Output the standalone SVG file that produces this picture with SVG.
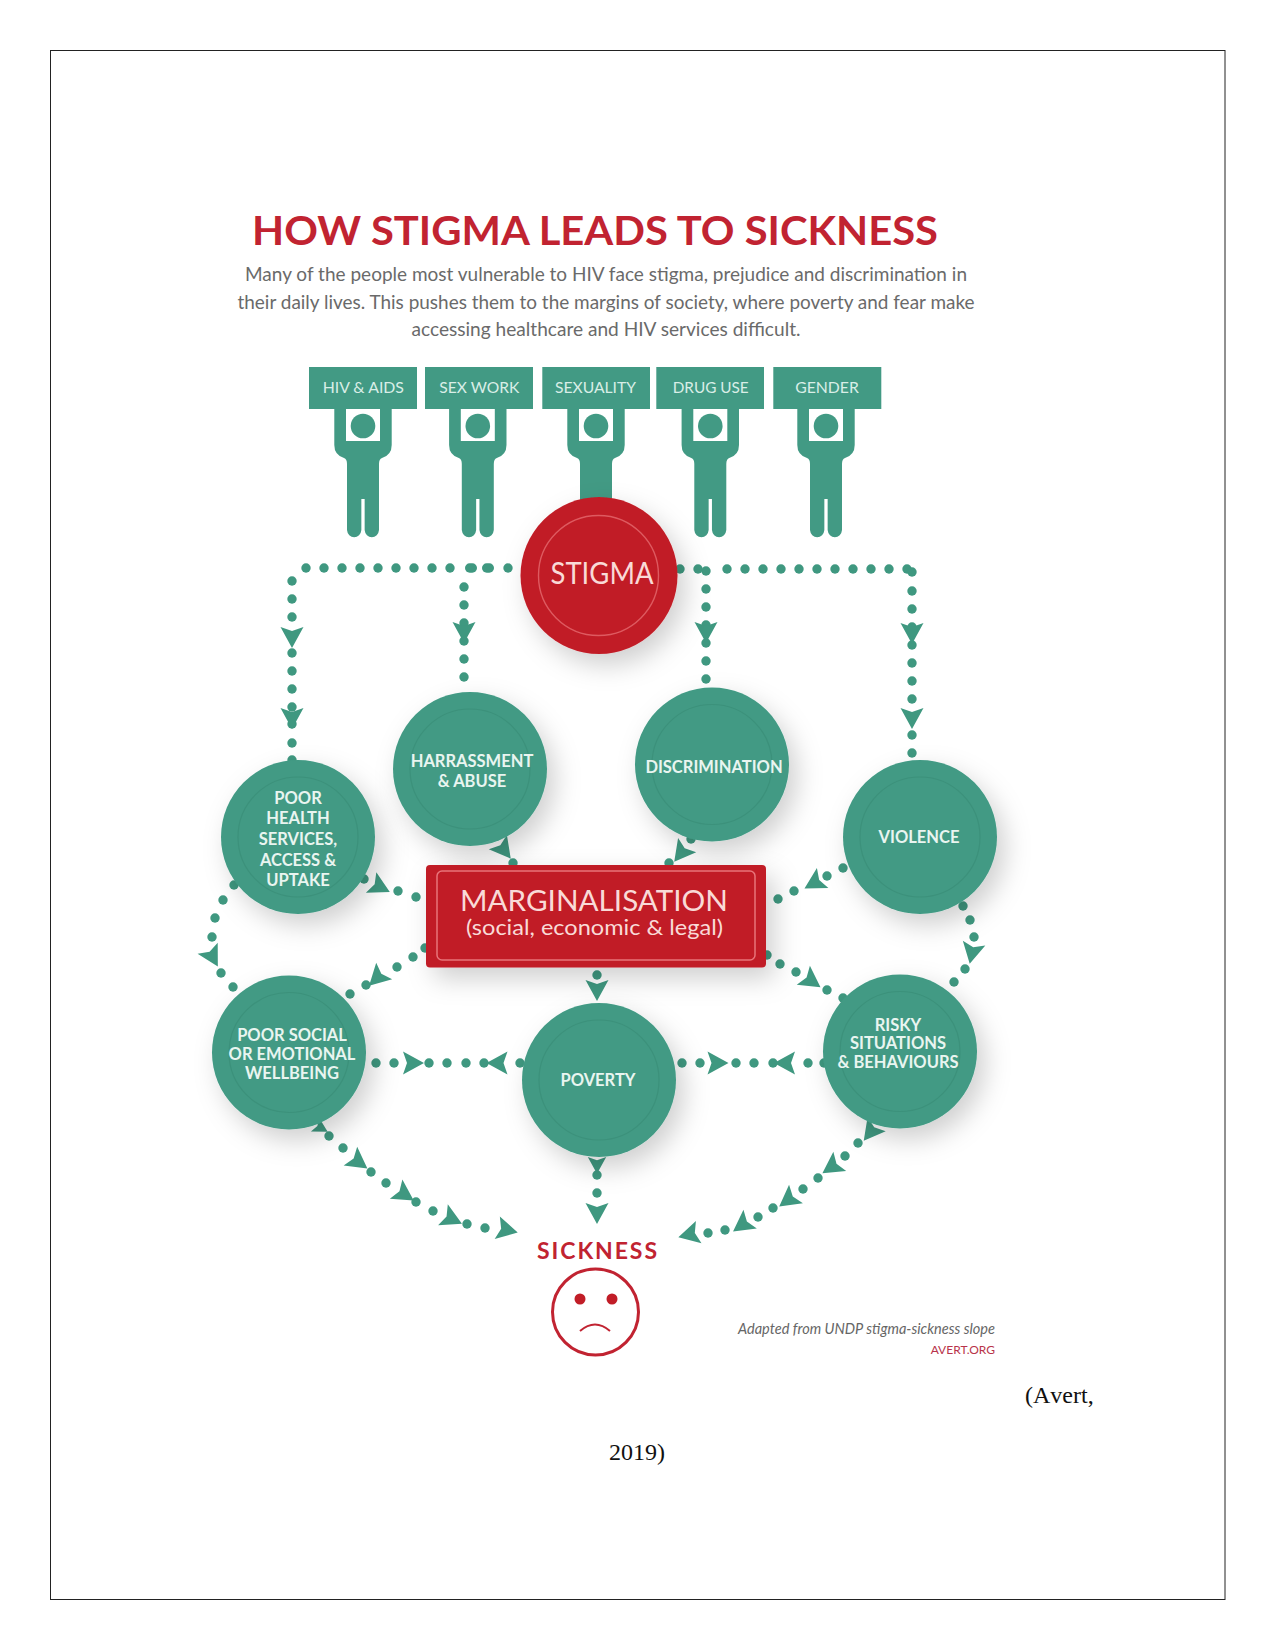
<svg xmlns="http://www.w3.org/2000/svg" width="1275" height="1651" viewBox="0 0 1275 1651">
<style>
text{font-family:"Lato","Liberation Sans",sans-serif}
.teal{fill:#429a84}
.d{fill:#3f9880}
.d circle{r:4.700px}
.d rect{rx:4.700px}
.a{fill:#3f9880}
.ring{fill:none;stroke:#3c917b;stroke-width:1.200}
.rring{fill:none;stroke:#de5a60;stroke-width:1.400}
.label{fill:#e9f5f0;font-weight:700;font-size:16.500px;text-anchor:middle}
.sign{fill:#d9eee7;font-size:15.500px;text-anchor:middle}
.body{fill:#6a6a6a;font-size:20px;text-anchor:middle}
.gothic{fill:#f9dad7;text-anchor:middle}
.times{font-family:"Liberation Serif","Times New Roman",serif;font-size:24px;fill:#111;font-kerning:none}
</style>
<defs>
<filter id="soft" x="-40%" y="-40%" width="190%" height="190%">
<feDropShadow dx="8" dy="11" stdDeviation="13" flood-color="#000" flood-opacity=".19"/>
</filter>
<path id="arrow" d="M11 0L-10-11.500L-6 0L-10 11.500Z"/>
<g id="figure">
<path class="teal" d="M-28.700 0H28.700V36Q28.700 46 19 49Q16 50 16 55V121A7.200 8 0 0 1 1.650 121V90H-1.650V121A7.200 8 0 0 1-16 121V55Q-16 50-19 49Q-28.700 46-28.700 36Z"/>
<rect x="-17" y="0" width="34" height="32" fill="#fff"/>
<circle cx="0" cy="17" r="12.300" class="teal"/>
</g>
</defs>
<rect width="1275" height="1651" fill="#fff"/>
<rect x="50.500" y="50.500" width="1174.500" height="1549" fill="none" stroke="#222" stroke-width="1"/>

<text x="595" y="245" text-anchor="middle" font-size="41" font-weight="700" fill="#c12331" textLength="686" lengthAdjust="spacingAndGlyphs">HOW STIGMA LEADS TO SICKNESS</text>
<text class="body" x="606" y="281" textLength="722" lengthAdjust="spacingAndGlyphs">Many of the people most vulnerable to HIV face stigma, prejudice and discrimination in</text>
<text class="body" x="606" y="309" textLength="737" lengthAdjust="spacingAndGlyphs">their daily lives. This pushes them to the margins of society, where poverty and fear make</text>
<text class="body" x="606" y="336" textLength="389" lengthAdjust="spacingAndGlyphs">accessing healthcare and HIV services difficult.</text>

<g id="connectors">
<g class="d">
<circle cx="306" cy="568"/><circle cx="324" cy="568"/><circle cx="342" cy="568"/><circle cx="360" cy="568"/><circle cx="378" cy="568"/><circle cx="396" cy="568"/><circle cx="414" cy="568"/><circle cx="432" cy="568"/><circle cx="450" cy="568"/><rect x="465" y="563.300" width="12" height="9.400"/><rect x="482" y="563.300" width="12" height="9.400"/><circle cx="508" cy="568"/>
<circle cx="292" cy="581"/><circle cx="292" cy="599"/><circle cx="292" cy="617"/><circle cx="292" cy="653"/><circle cx="292" cy="671"/><circle cx="292" cy="689"/><circle cx="292" cy="707"/><circle cx="292" cy="724"/><circle cx="292" cy="743"/><circle cx="292" cy="760"/>
<circle cx="464" cy="587"/><circle cx="464" cy="605"/><circle cx="464" cy="623"/><circle cx="464" cy="641"/><circle cx="464" cy="659"/><circle cx="464" cy="677"/>
<circle cx="680" cy="569"/><circle cx="698" cy="569"/><circle cx="706" cy="571"/><circle cx="727" cy="569"/><circle cx="745" cy="569"/><circle cx="763" cy="569"/><circle cx="781" cy="569"/><circle cx="799" cy="569"/><circle cx="817" cy="569"/><circle cx="835" cy="569"/><circle cx="853" cy="569"/><circle cx="871" cy="569"/><circle cx="889" cy="569"/><circle cx="907" cy="569"/><circle cx="912" cy="572"/>
<circle cx="706" cy="589"/><circle cx="706" cy="607"/><circle cx="706" cy="625"/><circle cx="706" cy="643"/><circle cx="706" cy="661"/><circle cx="706" cy="679"/>
<circle cx="912" cy="591"/><circle cx="912" cy="609"/><circle cx="912" cy="627"/><circle cx="912" cy="645"/><circle cx="912" cy="663"/><circle cx="912" cy="681"/><circle cx="912" cy="699"/><circle cx="912" cy="735"/><circle cx="912" cy="753"/>
<circle cx="513" cy="863"/><circle cx="669" cy="863"/><circle cx="691" cy="839"/>
<circle cx="416" cy="897"/><circle cx="398" cy="891"/><circle cx="364" cy="879"/>
<circle cx="234" cy="885"/><circle cx="223" cy="900"/><circle cx="215" cy="918"/><circle cx="212" cy="937"/><circle cx="221" cy="973"/><circle cx="233" cy="987"/>
<circle cx="425" cy="948"/><circle cx="413" cy="957"/><circle cx="397" cy="967"/><circle cx="366" cy="985"/><circle cx="350" cy="994"/>
<circle cx="597" cy="975"/><circle cx="597" cy="1175"/><circle cx="597" cy="1193"/>
<circle cx="376" cy="1063"/><circle cx="394" cy="1063"/><circle cx="429" cy="1063"/><circle cx="447" cy="1063"/><circle cx="466" cy="1063"/><circle cx="484" cy="1063"/><circle cx="520" cy="1063"/>
<circle cx="329" cy="1136"/><circle cx="343" cy="1148"/><circle cx="371" cy="1172"/><circle cx="386" cy="1183"/><circle cx="416" cy="1202"/><circle cx="433" cy="1211"/><circle cx="467" cy="1224"/><circle cx="485" cy="1228"/>
<circle cx="682" cy="1063"/><circle cx="700" cy="1063"/><circle cx="736" cy="1063"/><circle cx="754" cy="1063"/><circle cx="773" cy="1063"/><circle cx="808" cy="1063"/><circle cx="824" cy="1063"/>
<circle cx="767" cy="955"/><circle cx="780" cy="964"/><circle cx="796" cy="972"/><circle cx="827" cy="990"/><circle cx="843" cy="998"/>
<circle cx="963" cy="906"/><circle cx="970" cy="920"/><circle cx="974" cy="937"/><circle cx="965" cy="969"/><circle cx="954" cy="982"/>
<circle cx="843" cy="868"/><circle cx="827" cy="876"/><circle cx="794" cy="891"/><circle cx="778" cy="899"/>
<circle cx="858" cy="1143"/><circle cx="845" cy="1156"/><circle cx="818" cy="1178"/><circle cx="803" cy="1189"/><circle cx="773" cy="1208"/><circle cx="758" cy="1217"/><circle cx="725" cy="1230"/><circle cx="708" cy="1233"/>
</g>
<g class="a">
<use href="#arrow" transform="translate(292,637) rotate(90)"/>
<use href="#arrow" transform="translate(292,718) rotate(90)"/>
<use href="#arrow" transform="translate(464,632) rotate(90)"/>
<use href="#arrow" transform="translate(706,632) rotate(90)"/>
<use href="#arrow" transform="translate(912,633) rotate(90)"/>
<use href="#arrow" transform="translate(912,718) rotate(90)"/>
<use href="#arrow" transform="translate(504,850) rotate(52)"/>
<use href="#arrow" transform="translate(681,853) rotate(128)"/>
<use href="#arrow" transform="translate(380,887) rotate(27)"/>
<use href="#arrow" transform="translate(212.500,957) rotate(61)"/>
<use href="#arrow" transform="translate(377,978) rotate(136)"/>
<use href="#arrow" transform="translate(597,990) rotate(90)"/>
<use href="#arrow" transform="translate(597,1165) rotate(90) scale(.8)"/>
<use href="#arrow" transform="translate(597,1213) rotate(90)"/>
<use href="#arrow" transform="translate(413,1063)"/>
<use href="#arrow" transform="translate(497.500,1063) rotate(180)"/>
<use href="#arrow" transform="translate(358.500,1162) rotate(36)"/>
<use href="#arrow" transform="translate(404.500,1194.500) rotate(33)"/>
<use href="#arrow" transform="translate(452,1219) rotate(25)"/>
<use href="#arrow" transform="translate(507,1230) rotate(13)"/>
<use href="#arrow" transform="translate(321,1128) rotate(30) scale(.7)"/>
<use href="#arrow" transform="translate(717.500,1063)"/>
<use href="#arrow" transform="translate(785,1063) rotate(180)"/>
<use href="#arrow" transform="translate(811.500,981) rotate(35)"/>
<use href="#arrow" transform="translate(972,953) rotate(102)"/>
<use href="#arrow" transform="translate(814,883) rotate(150)"/>
<use href="#arrow" transform="translate(870.500,1132) rotate(128)"/>
<use href="#arrow" transform="translate(831.500,1167) rotate(146)"/>
<use href="#arrow" transform="translate(788,1200) rotate(143)"/>
<use href="#arrow" transform="translate(742,1225) rotate(144.500)"/>
<use href="#arrow" transform="translate(689,1234.500) rotate(166)"/>
</g>
</g>

<g id="sign-hiv-aids"><use href="#figure" x="363" y="409"/><rect class="teal" x="309" y="367" width="108" height="42"/><text class="sign" x="363.300" y="393.300" textLength="81.300" lengthAdjust="spacingAndGlyphs">HIV &amp; AIDS</text></g>
<g id="sign-sex-work"><use href="#figure" x="477.800" y="409"/><rect class="teal" x="425" y="367" width="108" height="42"/><text class="sign" x="479.300" y="393.300" textLength="80" lengthAdjust="spacingAndGlyphs">SEX WORK</text></g>
<g id="sign-sexuality"><use href="#figure" x="596" y="409"/><rect class="teal" x="542.300" y="367" width="107.700" height="42"/><text class="sign" x="595.500" y="393.300" textLength="81" lengthAdjust="spacingAndGlyphs">SEXUALITY</text></g>
<g id="sign-drug-use"><use href="#figure" x="710.300" y="409"/><rect class="teal" x="656.300" y="367" width="107.700" height="42"/><text class="sign" x="710.700" y="393.300" textLength="76" lengthAdjust="spacingAndGlyphs">DRUG USE</text></g>
<g id="sign-gender"><use href="#figure" x="826" y="409"/><rect class="teal" x="773.300" y="367" width="108" height="42"/><text class="sign" x="827" y="393.300" textLength="63.700" lengthAdjust="spacingAndGlyphs">GENDER</text></g>

<g id="stigma">
<circle cx="599" cy="575.500" r="78.500" fill="#c11d27" filter="url(#soft)"/>
<circle class="rring" cx="598.500" cy="575.500" r="60"/>
<text class="gothic" x="602" y="583.500" font-size="30" textLength="103" lengthAdjust="spacingAndGlyphs">STIGMA</text>
</g>

<g id="harrassment">
<circle class="teal" cx="470" cy="769" r="77" filter="url(#soft)"/><circle class="ring" cx="470" cy="769" r="60"/>
<text class="label" x="472" y="767">HARRASSMENT</text><text class="label" x="472" y="787">&amp; ABUSE</text>
</g>
<g id="poor-health">
<circle class="teal" cx="298" cy="837" r="77" filter="url(#soft)"/><circle class="ring" cx="298" cy="837" r="60"/>
<text class="label" x="298" y="804">POOR</text><text class="label" x="298" y="824">HEALTH</text><text class="label" x="298" y="845">SERVICES,</text><text class="label" x="298" y="866">ACCESS &amp;</text><text class="label" x="298" y="886">UPTAKE</text>
</g>
<g id="discrimination">
<circle class="teal" cx="712" cy="764.500" r="77" filter="url(#soft)"/><circle class="ring" cx="712" cy="764.500" r="60"/>
<text class="label" x="714" y="773">DISCRIMINATION</text>
</g>
<g id="violence">
<circle class="teal" cx="920" cy="837" r="77" filter="url(#soft)"/><circle class="ring" cx="920" cy="837" r="60"/>
<text class="label" x="919" y="843">VIOLENCE</text>
</g>
<g id="marginalisation">
<rect x="426" y="865" width="340" height="102.500" rx="4" fill="#c11d27" filter="url(#soft)"/>
<rect x="437" y="871" width="318" height="89" rx="5" fill="none" stroke="#e8747a" stroke-width="1.500"/>
<text class="gothic" x="594" y="911" font-size="29" textLength="268" lengthAdjust="spacingAndGlyphs">MARGINALISATION</text>
<text class="gothic" x="594.500" y="935" font-size="21" textLength="257" lengthAdjust="spacingAndGlyphs">(social, economic &amp; legal)</text>
</g>
<g id="poor-social">
<circle class="teal" cx="289" cy="1052.500" r="77" filter="url(#soft)"/><circle class="ring" cx="289" cy="1052.500" r="60"/>
<text class="label" x="292" y="1041">POOR SOCIAL</text><text class="label" x="292" y="1060">OR EMOTIONAL</text><text class="label" x="292" y="1079">WELLBEING</text>
</g>
<g id="poverty">
<circle class="teal" cx="599" cy="1080" r="77" filter="url(#soft)"/><circle class="ring" cx="599" cy="1080" r="60"/>
<text class="label" x="598" y="1086">POVERTY</text>
</g>
<g id="risky">
<circle class="teal" cx="900" cy="1051.500" r="77" filter="url(#soft)"/><circle class="ring" cx="900" cy="1051.500" r="60"/>
<text class="label" x="898" y="1031">RISKY</text><text class="label" x="898" y="1049">SITUATIONS</text><text class="label" x="898" y="1068">&amp; BEHAVIOURS</text>
</g>
<g id="sickness">
<text x="597" y="1258.500" text-anchor="middle" font-size="23" font-weight="700" fill="#c12331" textLength="120">SICKNESS</text>
<circle cx="595.500" cy="1312" r="43" fill="none" stroke="#c12331" stroke-width="3"/>
<circle cx="580" cy="1299" r="5.500" fill="#c11d27"/><circle cx="612" cy="1299" r="5.500" fill="#c11d27"/>
<path d="M580 1331Q595 1318 610 1331" fill="none" stroke="#c12331" stroke-width="2"/>
</g>
<text x="995" y="1334" text-anchor="end" font-size="15" font-style="italic" fill="#666" textLength="257" lengthAdjust="spacingAndGlyphs">Adapted from UNDP stigma-sickness slope</text>
<text x="995" y="1354" text-anchor="end" font-size="12" fill="#b8334a">AVERT.ORG</text>
<text class="times" x="1025" y="1403">(Avert,</text>
<text class="times" x="609" y="1460">2019)</text>
</svg>
